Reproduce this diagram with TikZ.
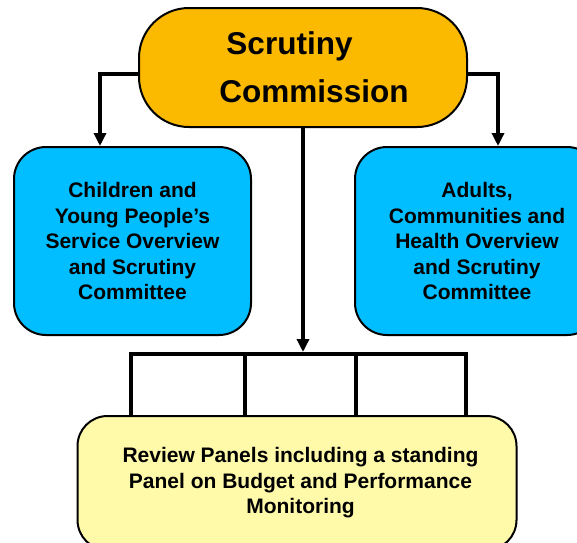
\documentclass[tikz,border=0pt]{standalone}
\usepackage{fontspec}
\setmainfont{Liberation Sans}
\usetikzlibrary{arrows.meta}
\definecolor{commission}{RGB}{251,186,0}
\definecolor{committee}{RGB}{0,190,255}
\definecolor{panels}{RGB}{255,250,170}

\begin{document}
\begin{tikzpicture}[x=1pt, y=-1pt,
		box/.style={draw, line width=2pt, rounded corners=32pt, inner sep=0pt, align=center, font=\bfseries\fontsize{21}{25.5}\selectfont},
		link/.style={line width=4pt},
		arrowlink/.style={link, -{Triangle[length=13pt, width=12pt]}} ]
		\useasboundingbox (0,0) rectangle (577,542);
		\node[box, fill=commission, rounded corners=50pt, minimum width=328pt, minimum height=119pt, align=left, font=\bfseries\fontsize{31.5}{48}\selectfont] (commission) at (303,67.5) {\hspace*{29pt}Scrutiny\\\hspace*{22pt}Commission};
		\node[box, fill=committee, minimum width=237pt, minimum height=188pt] (children) at (132.5,241) {Children and\\Young People’s\\Service Overview\\and Scrutiny\\Committee};
		\node[box, fill=committee, minimum width=244pt, minimum height=188pt] (adults) at (477,241) {Adults,\\Communities and\\Health Overview\\and Scrutiny\\Committee};
		\node[box, fill=panels, rounded corners=30pt, minimum width=439pt, minimum height=134pt] (review) at (297,483) {\hspace*{7pt}Review Panels including a standing\\\hspace*{7pt}Panel on Budget and Performance\\\hspace*{7pt}Monitoring};
		\coordinate (hub) at (303,352);
		\coordinate (bar west) at (131,354);
		\coordinate (bar east) at (466,354);
		\draw[arrowlink] ([yshift=-6.5pt]commission.west) -| ([xshift=-32.5pt]children.north);
		\draw[arrowlink] ([yshift=-6.5pt]commission.east) -| ([xshift=21pt]adults.north);
		\draw[arrowlink] (commission.south) -- (hub);
		\draw[link] (bar west |- review.north) |- (bar east) -- (bar east |- review.north);
		\foreach \x in {245, 356}
			\draw[link] (\x,354) -- (review.north -| \x,354);
	\end{tikzpicture}
\end{document}
